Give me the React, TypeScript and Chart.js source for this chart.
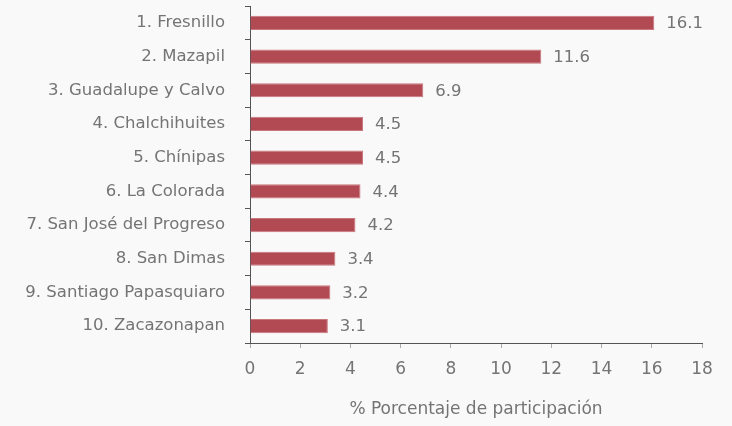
import React, { useEffect, useRef } from "react";
import { Chart, registerables } from "chart.js";

Chart.register(...registerables);

const categories = [
  "1. Fresnillo",
  "2. Mazapil",
  "3. Guadalupe y Calvo",
  "4. Chalchihuites",
  "5. Chínipas",
  "6. La Colorada",
  "7. San José del Progreso",
  "8. San Dimas",
  "9. Santiago Papasquiaro",
  "10. Zacazonapan",
];
const values = [16.1, 11.6, 6.9, 4.5, 4.5, 4.4, 4.2, 3.4, 3.2, 3.1];
const xTitle = "% Porcentaje de participación";

const FONT = "'DejaVu Sans', sans-serif";
const TEXT = "#747474";
const BG = "#f9f9f9";

export default function App() {
  const ref = useRef<HTMLCanvasElement | null>(null);
  useEffect(() => {
    document.body.style.margin = "0";
    document.body.style.background = BG;
    const bgPlugin = {
      id: "bg",
      beforeDraw(chart: any) {
        const c = chart.ctx;
        c.save();
        c.fillStyle = BG;
        c.fillRect(0, 0, chart.width, chart.height);
        c.restore();
      },
    };
    const valuePlugin = {
      id: "vals",
      afterDatasetsDraw(chart: any) {
        const c = chart.ctx;
        const meta = chart.getDatasetMeta(0);
        c.save();
        c.fillStyle = TEXT;
        c.font = `16.5px ${FONT}`;
        c.textAlign = "left";
        c.textBaseline = "middle";
        meta.data.forEach((el: any, i: number) => {
          c.fillText(String(values[i]), el.x + 12, el.y + 1);
        });
        c.restore();
      },
    };
    const chart = new Chart(ref.current!, {
      type: "bar",
      data: {
        labels: categories,
        datasets: [
          {
            data: values,
            backgroundColor: "#b24a53",
            borderColor: "#c9767d",
            borderWidth: 1,
            barPercentage: 0.42,
            categoryPercentage: 1,
          },
        ],
      },
      options: {
        indexAxis: "y",
        animation: false,
        responsive: false,
        layout: { padding: { top: 6, right: 30, bottom: 0, left: 0 } },
        plugins: { legend: { display: false }, tooltip: { enabled: false } },
        scales: {
          x: {
            min: 0,
            max: 18,
            ticks: { stepSize: 2, color: TEXT, font: { family: FONT, size: 17 }, padding: 11 },
            grid: { drawOnChartArea: false, drawTicks: true, tickLength: 5, color: "#aaa" },
            border: { display: true, color: "#555" },
            title: {
              display: true,
              text: xTitle,
              color: TEXT,
              font: { family: FONT, size: 17 },
              padding: { top: 0, bottom: 6 },
            },
            afterFit(scale: any) {
              scale.height = 83;
              scale.paddingLeft = 0;
              scale.paddingRight = 0;
            },
          },
          y: {
            ticks: { color: TEXT, font: { family: FONT, size: 16.5 }, padding: 20 },
            grid: { drawOnChartArea: false, drawTicks: true, tickLength: 5, color: "#555", offset: true },
            border: { display: true, color: "#555" },
            afterFit(scale: any) {
              scale.width = 250;
              scale.paddingTop = 0;
              scale.paddingBottom = 0;
            },
          },
        },
      },
      plugins: [bgPlugin, valuePlugin],
    });
    return () => chart.destroy();
  }, []);
  return (
    <div style={{ width: 732, height: 426 }}>
      <canvas ref={ref} width={732} height={426} style={{ display: "block" }} />
    </div>
  );
}
